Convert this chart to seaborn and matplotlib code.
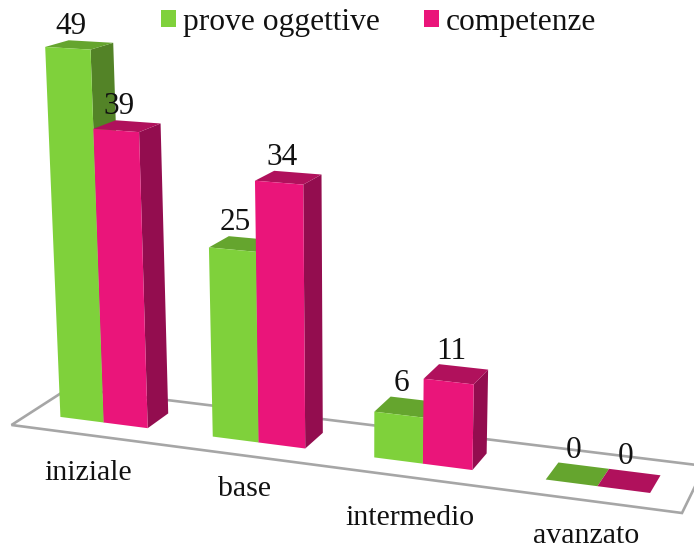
import numpy as np
import pandas as pd
import matplotlib
matplotlib.use('Agg')
import matplotlib.pyplot as plt
from matplotlib.patches import Polygon
from matplotlib.transforms import Transform
import seaborn as sns

# Data
livelli = ['iniziale', 'base', 'intermedio', 'avanzato']
prove_oggettive = [49, 25, 6, 0]
competenze = [39, 34, 11, 0]
serie = ['prove oggettive', 'competenze']

df = pd.DataFrame({
    'livello': livelli * 2,
    'serie': [serie[0]] * 4 + [serie[1]] * 4,
    'valore': prove_oggettive + competenze,
})

# Colors per series: front, side, top
front_colors = ['#7FD13B', '#EA157A']
side_colors = ['#538327', '#930D4F']
top_colors = ['#65A52E', '#B0115C']

# Pixel shift of the category labels from the foot of each group
label_shift = [(-16, 50), (-14, 47), (-13, 54), (-11, 50)]

sns.set_theme(style='white')
plt.rcParams['font.family'] = ['Liberation Serif', 'DejaVu Serif']

# Camera: fit (category, value, depth) -> picture pixels
bar_w = 0.58
h = bar_w / 2
cam_pts = [
    (-h, 0, 0, 61, 418), (0, 0, 0, 103.5, 422), (h, 0, 0, 147, 428),
    (1 - h, 0, 0, 213, 437), (1, 0, 0, 258, 442), (1 + h, 0, 0, 304, 448),
    (2 - h, 0, 0, 375, 457), (2, 0, 0, 423, 463), (2 + h, 0, 0, 472, 470),
    (3 - h, 0, 0, 547, 480), (3, 0, 0, 598, 486), (3 + h, 0, 0, 650, 493),
    (-h, 49, 0, 45.5, 47), (0, 49, 0, 90, 50), (0, 39, 0, 93.5, 129), (h, 39, 0, 138, 132),
    (1 - h, 25, 0, 210, 248), (1, 34, 0, 255, 181), (1 + h, 34, 0, 303, 185),
    (2 - h, 6, 0, 375, 412), (2, 11, 0, 424, 379), (2 + h, 11, 0, 473, 383),
    (-h, 49, 1, 69, 40), (0, 49, 1, 113, 43), (0, 39, 1, 116, 120), (h, 39, 1, 160, 123),
    (h, 0, 1, 168, 413), (1 + h, 0, 1, 322, 433), (1 + h, 34, 1, 321, 174), (1, 34, 1, 275, 170),
    (1 - h, 25, 1, 230, 237), (2 + h, 0, 1, 487, 453), (2 + h, 11, 1, 487, 370),
    (2, 11, 1, 439, 364), (2 - h, 6, 1, 392, 397),
    (3 + h, 0, 1, 660, 476), (3, 0, 1, 608, 469), (3 - h, 0, 1, 559, 463),
]
A, b = [], []
for u, v, d, px, py in cam_pts:
    A.append([u, v, d, 1, 0, 0, 0, 0, -u * px, -v * px, -d * px])
    A.append([0, 0, 0, 0, u, v, d, 1, -u * py, -v * py, -d * py])
    b += [px, py]
cam = np.append(np.linalg.lstsq(np.array(A), np.array(b), rcond=None)[0], 1).reshape(3, 4)


def project(u, v, d):
    p = cam @ np.array([u, v, d, 1.0])
    return p[0] / p[2], p[1] / p[2]


class FrontPlane(Transform):
    """Category/value coordinates of the front of the bars -> picture pixels"""
    input_dims = 2
    output_dims = 2

    def transform_non_affine(self, values):
        return np.array([project(u, v, 0) for u, v in values])


fig = plt.figure(figsize=(6.94, 5.49), dpi=100)
ax = fig.add_axes([0, 0, 1, 1])

sns.barplot(data=df, x='livello', y='valore', hue='serie', hue_order=serie, order=livelli,
            palette=front_colors, saturation=1, width=bar_w, gap=0, linewidth=0, ax=ax)

# From here the axes work in picture pixels
ax.set_xlim(0, 694)
ax.set_ylim(549, 0)
ax.axis('off')

# Floor
floor = Polygon([(69, 388), (11.5, 425), (682, 513), (705, 466)], closed=True, facecolor='white',
                edgecolor='#A6A6A6', linewidth=1.9, zorder=1, joinstyle='miter')
ax.add_patch(floor)

# Bars with their sides, tops and value labels
to_pixels = FrontPlane() + ax.transData
for s, container in enumerate(ax.containers):
    for bar, val in zip(container, container.datavalues):
        x0, x1 = bar.get_x(), bar.get_x() + bar.get_width()
        base_z = 3 + 3 * (s + 1)
        bar.set_transform(to_pixels)
        bar.set_zorder(base_z + 2)
        side = [project(x1, 0, 0), project(x1, val, 0), project(x1, val, 1), project(x1, 0, 1)]
        top = [project(x0, val, 0), project(x1, val, 0), project(x1, val, 1), project(x0, val, 1)]
        ax.add_patch(Polygon(side, closed=True, facecolor=side_colors[s], linewidth=0, zorder=base_z))
        ax.add_patch(Polygon(top, closed=True, facecolor=top_colors[s], linewidth=0, zorder=base_z + 1))
        mid = (x0 + x1) / 2
        ax.text(project(mid, val, 0.15)[0], project(mid, val, 1)[1] - 8, f'{val:.0f}', ha='center', va='baseline',
                fontsize=22.5, color='#111111', zorder=20)

# Category labels
for i, name in enumerate(livelli):
    px, py = project(i, 0, 0)
    ax.text(px + label_shift[i][0], py + label_shift[i][1], name, ha='center', va='center',
            fontsize=21.5, color='#111111', zorder=20)

sns.move_legend(ax, 'upper left', bbox_to_anchor=(0.2005, 1.026), ncol=2, frameon=False, title=None,
                fontsize=22.7, handlelength=0.47, handleheight=0.47, handletextpad=0.22,
                columnspacing=1.4, borderpad=0.2)
for txt in ax.get_legend().get_texts():
    txt.set_color('#111111')

fig.savefig('out.png', dpi=100)
